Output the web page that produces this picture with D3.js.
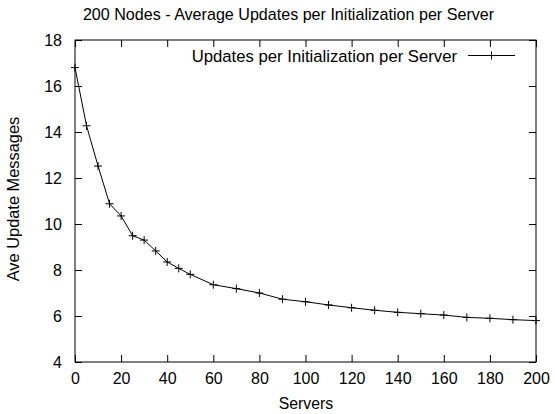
<!DOCTYPE html>
<html>
<head>
<meta charset="utf-8">
<script src="https://cdn.jsdelivr.net/npm/d3@7"></script>
<style>
  html, body { margin: 0; padding: 0; background: #fff; }
  svg { display: block; font-family: "Liberation Sans", Arial, Helvetica, sans-serif; }
</style>
</head>
<body>
<svg id="chart" width="555" height="414"></svg>
<script>
// Number of servers
const servers = [0, 5, 10, 15, 20, 25, 30, 35, 40, 45, 50, 60, 70, 80, 90, 100,
                 110, 120, 130, 140, 150, 160, 170, 180, 190, 200];
// Average update messages per initialization per server
const updates = [16.8, 14.27, 12.52, 10.88, 10.35, 9.49, 9.3, 8.83, 8.35, 8.07, 7.81,
                 7.36, 7.19, 7.0, 6.73, 6.62, 6.48, 6.36, 6.25, 6.16, 6.1, 6.04,
                 5.94, 5.9, 5.84, 5.8];
const xTicks = [0, 20, 40, 60, 80, 100, 120, 140, 160, 180, 200];
const yTicks = [4, 6, 8, 10, 12, 14, 16, 18];
const seriesName = "Updates per Initialization per Server";

const svg = d3.select("#chart");
const margin = { left: 75, right: 19, top: 40, bottom: 52 };
const W = 555, H = 414;
const x = d3.scaleLinear().domain([0, 200]).range([margin.left, W - margin.right]);
const y = d3.scaleLinear().domain([4, 18]).range([H - margin.bottom, margin.top]);
const tickFs = 16;
const tickLen = 7;

// Title
svg.append("text").attr("x", 288.5).attr("y", 20)
  .attr("text-anchor", "middle").attr("font-size", 16.1)
  .text("200 Nodes - Average Updates per Initialization per Server");

// Axes: ticks pointing into the plot, mirrored on opposite sides
const axisStyle = g => {
  g.select(".domain").remove();
  g.selectAll(".tick line").attr("stroke", "#000").attr("stroke-width", 1);
  g.selectAll(".tick text").attr("font-size", tickFs).attr("fill", "#000")
    .attr("font-family", "Liberation Sans, Arial, sans-serif");
};
svg.append("g").attr("transform", `translate(0,${y(4)})`)
  .call(d3.axisBottom(x).tickValues(xTicks).tickSizeInner(-tickLen).tickSizeOuter(0).tickPadding(11))
  .call(axisStyle);
svg.append("g").attr("transform", `translate(0,${y(18)})`)
  .call(d3.axisTop(x).tickValues(xTicks).tickSizeInner(-tickLen).tickSizeOuter(0).tickFormat(""))
  .call(axisStyle);
svg.append("g").attr("transform", `translate(${x(0)},0)`)
  .call(d3.axisLeft(y).tickValues(yTicks).tickSizeInner(-tickLen).tickSizeOuter(0).tickPadding(13))
  .call(axisStyle);
svg.append("g").attr("transform", `translate(${x(200)},0)`)
  .call(d3.axisRight(y).tickValues(yTicks).tickSizeInner(-tickLen).tickSizeOuter(0).tickFormat(""))
  .call(axisStyle);

// Plot border
svg.append("rect")
  .attr("x", x(0)).attr("y", y(18))
  .attr("width", x(200) - x(0)).attr("height", y(4) - y(18))
  .attr("fill", "none").attr("stroke", "#000").attr("stroke-width", 1);

// Axis labels
svg.append("text").attr("x", 306).attr("y", 409)
  .attr("text-anchor", "middle").attr("font-size", 15.8).text("Servers");
svg.append("text")
  .attr("transform", `translate(19,199) rotate(-90)`)
  .attr("text-anchor", "middle").attr("font-size", 16.4).text("Ave Update Messages");

// Series line
const data = servers.map((s, i) => ({ s, v: updates[i] }));
svg.append("path").datum(data)
  .attr("fill", "none").attr("stroke", "#000").attr("stroke-width", 1)
  .attr("d", d3.line().x(d => x(d.s)).y(d => y(d.v)));

// Plus-shaped point markers
const plus = (sel, cx, cy, r) => {
  sel.append("path")
    .attr("d", `M${cx - r},${cy}H${cx + r}M${cx},${cy - r}V${cy + r}`)
    .attr("stroke", "#000").attr("stroke-width", 1).attr("fill", "none");
};
const markers = svg.append("g");
data.forEach(d => plus(markers, x(d.s), y(d.v), 4));

// Legend
const ly = 55.5;
svg.append("text").attr("x", 457).attr("y", ly + 6)
  .attr("text-anchor", "end").attr("font-size", 16.7).text(seriesName);
svg.append("line").attr("x1", 468).attr("x2", 515).attr("y1", ly).attr("y2", ly)
  .attr("stroke", "#000").attr("stroke-width", 1);
plus(svg, 491.5, ly, 4);
</script>
</body>
</html>
